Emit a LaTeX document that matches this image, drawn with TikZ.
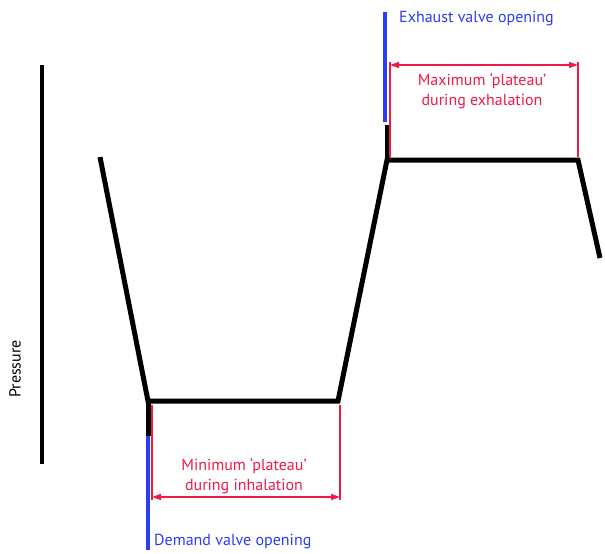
\documentclass[tikz,border=0pt]{standalone}
\usepackage{fontspec}
\setmainfont{PT Sans}
\usetikzlibrary{arrows.meta}
\definecolor{valveblue}{HTML}{2B3CF2}
\definecolor{plateaured}{HTML}{F01A48}
\tikzset{
  wave/.style = {line width=5pt, line join=miter},
  valve/.style = {valveblue, line width=3.5pt},
  marker/.style = {plateaured, line width=2pt},
  span/.style = {plateaured, line width=1.5pt, {Triangle[length=9pt,width=6pt]}-{Triangle[length=9pt,width=6pt]}},
  lbl/.style = {font=\fontsize{16}{20}\selectfont, inner sep=0pt}
}
\begin{document}
\begin{tikzpicture}[x=1pt, y=-1pt]
\useasboundingbox (0,0) rectangle (605,554);
% axis
\coordinate (axtop) at (42,65);
\coordinate (axbot) at (42,464);
\draw[line width=4pt] (axtop) -- (axbot);
\node[lbl, rotate=90] (pressure) at (15,369) {Pressure};
% pressure trace
\coordinate (w0) at (100,157);
\coordinate (w1) at (148,401);
\coordinate (w2) at (338,401);
\coordinate (w3) at (387,160);
\coordinate (w4) at (578,160);
\coordinate (w5) at (600,258);
\coordinate (dstub) at (148,436);
\coordinate (estub) at (387,125);
\draw[wave] (w0) -- (w1) -- (w2) -- (w3) -- (w4) -- (w5);
\draw[wave] (w1) -- (dstub);
\draw[wave] (w3) -- (estub);
% valve openings
\coordinate (dvend) at (148,550);
\coordinate (evtop) at (385,12);
\coordinate (evbot) at (385,122);
\draw[valve] (dstub) -- (dvend);
\draw[valve] (evtop) -- (evbot);
\node[lbl, anchor=west, text=valveblue] (demand) at (154,542) {Demand valve opening};
\node[lbl, anchor=west, text=valveblue] (exhaust) at (399,19) {Exhaust valve opening};
% minimum plateau
\coordinate (mina) at (152,405);
\coordinate (minb) at (340,405);
\coordinate (minc) at (152,500);
\coordinate (mind) at (340,500);
\coordinate (minl) at (152,497);
\coordinate (minr) at (340,497);
\draw[marker] (mina) -- (minc);
\draw[marker] (minb) -- (mind);
\draw[span] (minl) -- (minr);
\node[lbl, align=center, text=plateaured] (mintxt) at (244,476) {Minimum `plateau'\\during inhalation};
% maximum plateau
\coordinate (maxa) at (390,62);
\coordinate (maxb) at (578,62);
\coordinate (maxc) at (390,157);
\coordinate (maxd) at (578,157);
\coordinate (maxl) at (390,65);
\coordinate (maxr) at (578,65);
\draw[marker] (maxa) -- (maxc);
\draw[marker] (maxb) -- (maxd);
\draw[span] (maxl) -- (maxr);
\node[lbl, align=center, text=plateaured] (maxtxt) at (482,91) {Maximum `plateau'\\during exhalation};
\end{tikzpicture}
\end{document}
